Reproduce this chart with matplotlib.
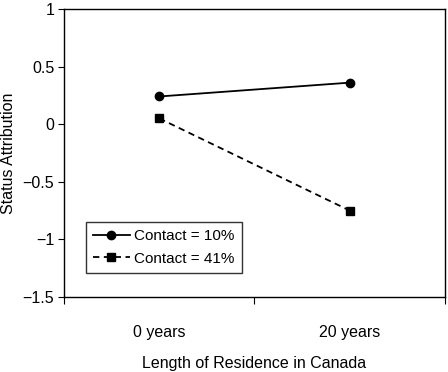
import numpy as np
from matplotlib import pyplot as plt

plt.rcParams['font.family'] = ['Liberation Sans', 'DejaVu Sans']
plt.rcParams['axes.unicode_minus'] = True

categories = ['0 years', '20 years']
contact_10 = [0.24, 0.36]
contact_41 = [0.05, -0.75]
yticks = [1, 0.5, 0, -0.5, -1, -1.5]
ytick_labels = ['1', '0.5', '0', '\u22120.5', '\u22121', '\u22121.5']

fig = plt.figure(figsize=(4.48, 3.72), dpi=100)
ax = fig.add_axes([0.143, 0.2016, 0.85, 0.7745])

x = np.arange(len(categories))
ax.plot(x, contact_10, color='black', lw=1.3, marker='o', ms=6, label='Contact = 10%')
ax.plot(x, contact_41, color='black', lw=1.3, ls=(0, (3.5, 2.5)), marker='s', ms=6,
        label='Contact = 41%')

ax.set_xlim(-0.5, 1.5)
ax.set_ylim(-1.5, 1)
ax.set_yticks(yticks)
ax.set_yticklabels(ytick_labels, fontsize=11.5)
ax.set_xticks([-0.5, 0.5, 1.5])
ax.set_xticklabels([])
ax.set_xticks(x, minor=True)
ax.set_xticklabels(categories, minor=True, fontsize=11.5)
ax.tick_params(axis='x', which='minor', length=0, pad=20)
ax.tick_params(axis='x', which='major', direction='out', length=5)
ax.tick_params(axis='y', direction='out', length=4, pad=3)
for s in ax.spines.values():
    s.set_linewidth(1.0)

ax.set_xlabel('Length of Residence in Canada', fontsize=11.5, labelpad=12)
ax.set_ylabel('Status Attribution', fontsize=11.5, labelpad=5)

leg = ax.legend(loc='lower left', bbox_to_anchor=(0.058, 0.085), fontsize=11,
                frameon=True, fancybox=False, edgecolor='black', handlelength=2.4,
                handletextpad=0.3, borderpad=0.45, labelspacing=0.55, borderaxespad=0)
leg.get_frame().set_linewidth(1.0)

plt.savefig('out.png', dpi=100)
